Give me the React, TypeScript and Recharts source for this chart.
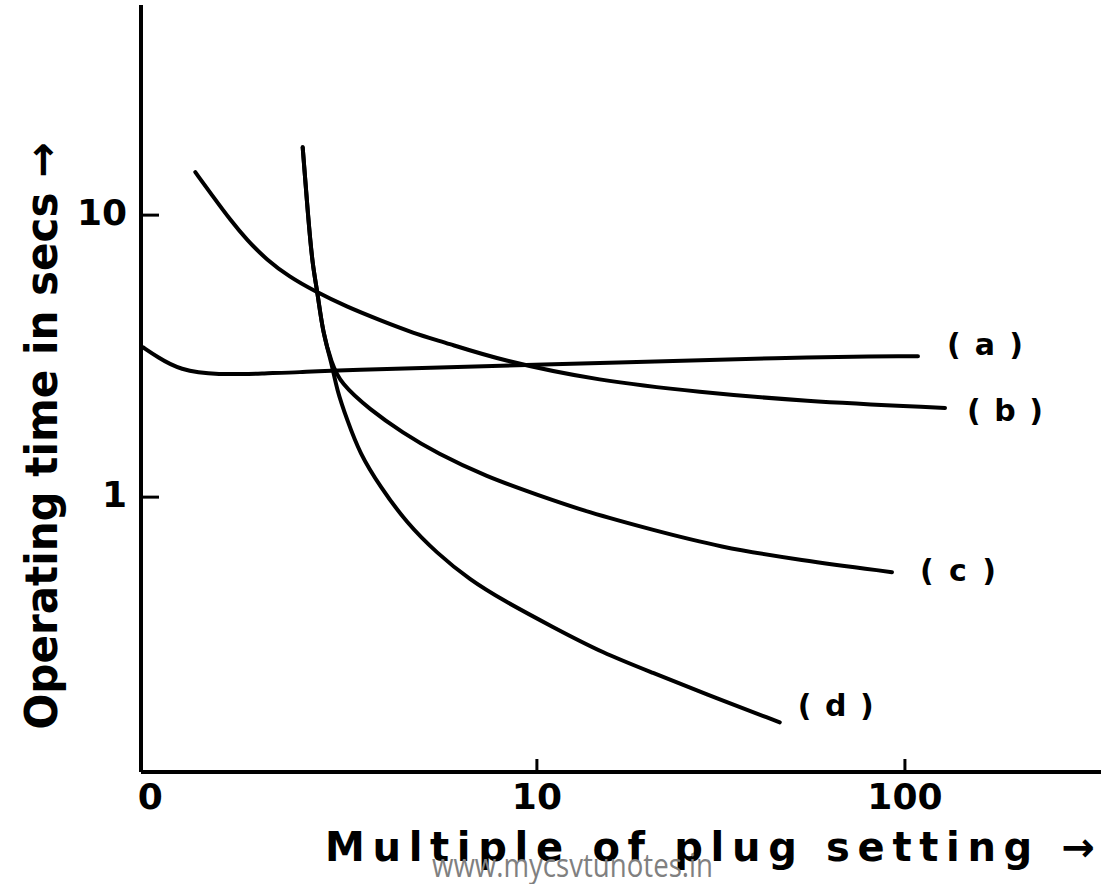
import { LineChart, Line, XAxis, YAxis } from "recharts";

const INK = "#000";
const FONT = "'DejaVu Sans', Verdana, sans-serif";

// curve (a): nearly flat, small hump at the start
const A_X = [0.85, 0.93, 1.07, 1.35, 1.85, 2.27, 2.79, 9.75, 51.8, 108.5];
const A_Y = [3.4, 3.14, 2.82, 2.71, 2.75, 2.77, 2.82, 2.94, 3.14, 3.16];

// curve (b)
const B_X = [1.18, 1.32, 1.47, 1.63, 1.85, 2.13, 2.46, 3.05, 3.75, 4.6, 5.69, 7.93, 14.8, 27.7, 51.8, 128.5];
const B_Y = [14.2, 11.6, 9.6, 8.15, 6.92, 6.03, 5.42, 4.72, 4.24, 3.82, 3.52, 3.06, 2.58, 2.36, 2.19, 2.07];

// steep branch shared by (c) and (d)
const CD_X = [2.31, 2.39, 2.46, 2.53, 2.62, 2.77];
const CD_Y = [17.4, 9.84, 6.54, 5.42, 3.82, 2.99];

// curve (c) after the split
const C_X = [2.92, 3.52, 4.32, 5.35, 7.31, 10, 13.7, 20.7, 31.4, 51.8, 92.2];
const C_Y = [2.54, 2.04, 1.69, 1.43, 1.18, 1.02, 0.885, 0.764, 0.665, 0.598, 0.542];

// curve (d) after the split
const D_X = [2.86, 3.05, 3.3, 3.75, 4.43, 5.35, 6.58, 8.08, 11.05, 15.1, 20.7, 28.3, 45.7];
const D_Y = [2.4, 1.88, 1.43, 1.09, 0.809, 0.633, 0.508, 0.431, 0.346, 0.28, 0.238, 0.202, 0.159];

const X_TICKS = [0.89, 10, 100];
const X_TICK_LABELS = ["0", "10", "100"];
const Y_TICKS = [1, 10];
const Y_TICK_LABELS = ["1", "10"];

const pts = (xs: number[], ys: number[]) => xs.map((x, i) => ({ x, y: ys[i] }));

const SERIES = [
  { name: "(a)", data: pts(A_X, A_Y), dx: 29, dy: -12 },
  { name: "(b)", data: pts(B_X, B_Y), dx: 22, dy: 2 },
  { name: "(c)", data: pts([...CD_X, ...C_X], [...CD_Y, ...C_Y]), dx: 28, dy: -2 },
  { name: "(d)", data: pts([...CD_X, ...D_X], [...CD_Y, ...D_Y]), dx: 18, dy: -17 },
];

function endLabel(name: string, last: number, dx: number, dy: number) {
  // eslint-disable-next-line @typescript-eslint/no-explicit-any
  return (p: any) => {
    if (p.index !== last) return null;
    return (
      <text
        x={p.x + dx}
        y={p.y + dy}
        dominantBaseline="central"
        fontFamily={FONT}
        fontWeight={700}
        fontSize={30}
        textLength={76}
        lengthAdjust="spacing"
        fill={INK}
      >
        {name}
      </text>
    );
  };
}

// eslint-disable-next-line @typescript-eslint/no-explicit-any
function XTick({ x, y, payload, index }: any) {
  const i = X_TICKS.indexOf(payload.value);
  return (
    <g>
      {index > 0 && <line x1={x} x2={x} y1={y} y2={y - 13} stroke={INK} strokeWidth={3} />}
      <text
        x={x}
        y={y + 24}
        textAnchor="middle"
        dominantBaseline="central"
        fontFamily={FONT}
        fontWeight={700}
        fontSize={36}
        fill={INK}
      >
        {X_TICK_LABELS[i]}
      </text>
    </g>
  );
}

// eslint-disable-next-line @typescript-eslint/no-explicit-any
function YTick({ x, y, payload }: any) {
  const i = Y_TICKS.indexOf(payload.value);
  return (
    <g>
      <line x1={x} x2={x + 18} y1={y} y2={y} stroke={INK} strokeWidth={3} />
      <text
        x={x - 14}
        y={y - 3}
        textAnchor="end"
        dominantBaseline="central"
        fontFamily={FONT}
        fontWeight={700}
        fontSize={36}
        fill={INK}
      >
        {Y_TICK_LABELS[i]}
      </text>
    </g>
  );
}

// eslint-disable-next-line @typescript-eslint/no-explicit-any
function YTitle(props: any) {
  const vb = props.viewBox ?? { x: 0, y: 5 };
  const cx = vb.x + 41;
  const cy = vb.y + 431;
  return (
    <text
      x={cx}
      y={cy}
      transform={`rotate(-90 ${cx} ${cy})`}
      textAnchor="middle"
      dominantBaseline="central"
      fontFamily={FONT}
      fontWeight={700}
      fontSize={44}
      textLength={587}
      lengthAdjust="spacingAndGlyphs"
      fill={INK}
    >
      Operating time in secs →
    </text>
  );
}

// eslint-disable-next-line @typescript-eslint/no-explicit-any
function XTitle(props: any) {
  const vb = props.viewBox ?? { x: 141, y: 772 };
  return (
    <g>
      <text
        x={vb.x + 184}
        y={vb.y + 89}
        fontFamily={FONT}
        fontWeight={700}
        fontSize={40}
        textLength={770}
        lengthAdjust="spacing"
        fill={INK}
      >
        Multiple of plug setting →
      </text>
      <text
        x={vb.x + 291}
        y={vb.y + 105}
        fontFamily="'Open Sans', sans-serif"
        fontSize={32}
        textLength={281}
        lengthAdjust="spacingAndGlyphs"
        fill="#808080"
      >
        www.mycsvtunotes.in
      </text>
    </g>
  );
}

export default function App() {
  return (
    <div style={{ position: "absolute", left: 0, top: 0, width: 1101, height: 884, background: "#fff" }}>
      <LineChart width={1101} height={884} margin={{ top: 5, right: 0, bottom: 0, left: 0 }}>
        <XAxis
          dataKey="x"
          type="number"
          scale="log"
          domain={[0.84, 341]}
          allowDataOverflow
          ticks={X_TICKS}
          interval={0}
          tickLine={false}
          tickSize={0}
          tickMargin={0}
          height={112}
          axisLine={{ stroke: INK, strokeWidth: 4 }}
          tick={<XTick />}
          label={<XTitle />}
        />
        <YAxis
          dataKey="y"
          type="number"
          scale="log"
          domain={[0.106, 55.6]}
          allowDataOverflow
          ticks={Y_TICKS}
          interval={0}
          tickLine={false}
          tickSize={0}
          tickMargin={0}
          width={141}
          axisLine={{ stroke: INK, strokeWidth: 4 }}
          tick={<YTick />}
          label={<YTitle />}
        />
        {SERIES.map((s) => (
          <Line
            key={s.name}
            data={s.data}
            dataKey="y"
            type="basis"
            stroke={INK}
            strokeWidth={4}
            strokeLinecap="round"
            dot={false}
            activeDot={false}
            isAnimationActive={false}
            label={endLabel(s.name, s.data.length - 1, s.dx, s.dy)}
          />
        ))}
      </LineChart>
    </div>
  );
}
